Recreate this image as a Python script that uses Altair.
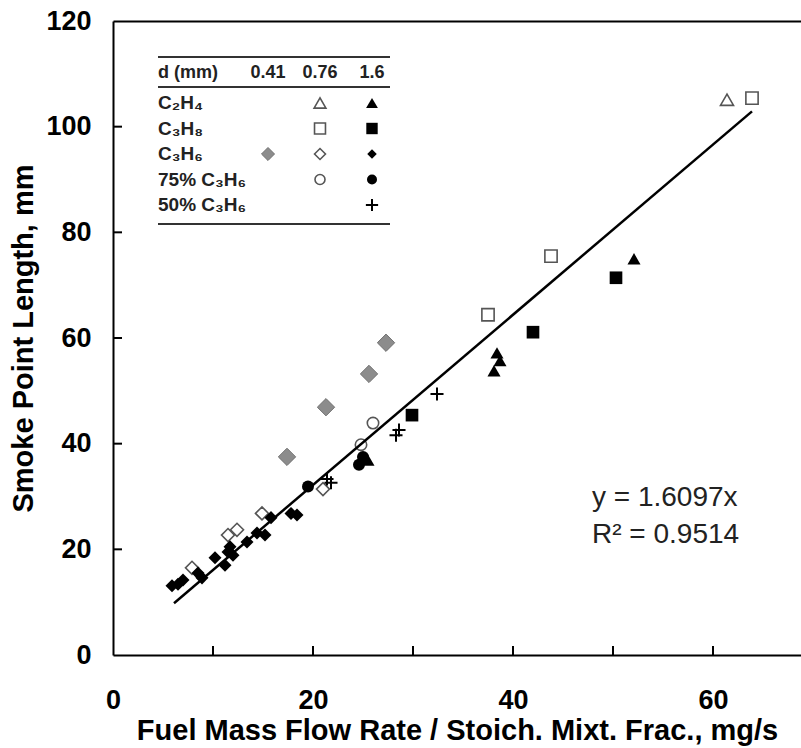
import altair as alt
import pandas as pd

# ---------------- data ----------------
c2h4_076_x = [61.4]
c2h4_076_y = [105.1]
c2h4_16_x = [25.5, 38.1, 38.4, 38.7, 52.1]
c2h4_16_y = [36.9, 53.8, 57.2, 55.7, 75.0]
c3h8_076_x = [37.5, 43.8, 63.9]
c3h8_076_y = [64.4, 75.5, 105.4]
c3h8_16_x = [29.9, 42.0, 50.3]
c3h8_16_y = [45.4, 61.1, 71.4]
c3h6_041_x = [17.4, 21.3, 25.6, 27.3]
c3h6_041_y = [37.5, 46.9, 53.2, 59.1]
c3h6_076_x = [7.9, 11.5, 12.4, 14.9, 21.0]
c3h6_076_y = [16.5, 22.7, 23.7, 26.8, 31.4]
c3h6_16_x = [5.9, 6.5, 7.0, 8.5, 8.9, 10.2, 11.2, 11.5, 11.7, 12.0, 13.4, 14.4, 15.2, 15.8, 17.8, 18.4]
c3h6_16_y = [13.1, 13.4, 14.2, 15.5, 14.6, 18.4, 17.0, 19.5, 20.5, 18.9, 21.4, 23.1, 22.7, 26.0, 26.8, 26.5]
p75_076_x = [24.8, 26.0]
p75_076_y = [39.8, 43.9]
p75_16_x = [19.5, 24.6, 25.0]
p75_16_y = [31.9, 36.0, 37.5]
p50_16_x = [21.4, 21.8, 28.3, 28.6, 32.4]
p50_16_y = [33.3, 32.6, 41.6, 42.6, 49.4]

fit_x = [6.1, 63.9]
fit_y = [9.8, 102.9]

x_label_values = [0, 20, 40, 60]
x_tick_values = [10, 20, 30, 40, 50, 60]
y_label_values = [0, 20, 40, 60, 80, 100, 120]
y_tick_values = [20, 40, 60, 80, 100]

x_title = "Fuel Mass Flow Rate / Stoich. Mixt. Frac., mg/s"
y_title = "Smoke Point Length, mm"

legend_header = "d (mm)"
legend_cols = ["0.41", "0.76", "1.6"]
legend_rows = ["C₂H₄", "C₃H₈", "C₃H₆", "75% C₃H₆", "50% C₃H₆"]
eq_lines = ["y = 1.6097x", "R² = 0.9514"]

# ---------------- layout / style ----------------
W, H = 688, 634
XMAX, YMAX = 68.8, 120
FONT = "Liberation Sans"
PLUS = "M-1,0H1M0,-1V1"
OPEN = "#555555"

series = [
    (c2h4_076_x, c2h4_076_y, legend_rows[0], "0.76",
     dict(shape="triangle-up", filled=False, color=OPEN, strokeWidth=1.6), 170, 140),
    (c2h4_16_x, c2h4_16_y, legend_rows[0], "1.6",
     dict(shape="triangle-up", filled=True, color="black"), 170, 140),
    (c3h8_076_x, c3h8_076_y, legend_rows[1], "0.76",
     dict(shape="square", filled=False, color=OPEN, strokeWidth=1.6), 150, 120),
    (c3h8_16_x, c3h8_16_y, legend_rows[1], "1.6",
     dict(shape="square", filled=True, color="black"), 160, 130),
    (c3h6_041_x, c3h6_041_y, legend_rows[2], "0.41",
     dict(shape="diamond", filled=True, fill="#8c8c8c", stroke="#707070", strokeWidth=1), 300, 170),
    (c3h6_076_x, c3h6_076_y, legend_rows[2], "0.76",
     dict(shape="diamond", filled=False, color=OPEN, strokeWidth=1.6), 170, 120),
    (c3h6_16_x, c3h6_16_y, legend_rows[2], "1.6",
     dict(shape="diamond", filled=True, color="black"), 170, 90),
    (p75_076_x, p75_076_y, legend_rows[3], "0.76",
     dict(shape="circle", filled=False, color=OPEN, strokeWidth=1.6), 130, 100),
    (p75_16_x, p75_16_y, legend_rows[3], "1.6",
     dict(shape="circle", filled=True, color="black"), 144, 100),
    (p50_16_x, p50_16_y, legend_rows[4], "1.6",
     dict(shape=PLUS, filled=False, color="black", strokeWidth=2), 170, 150),
]

xscale = alt.Scale(domain=[0, XMAX], nice=False, zero=False)
yscale = alt.Scale(domain=[0, YMAX], nice=False, zero=False)
lx_scale = alt.Scale(type="point", domain=legend_cols, range=[155, 259], padding=0)
ly_scale = alt.Scale(type="point", domain=legend_rows, range=[82, 184], padding=0)
eq_scale = alt.Scale(type="point", domain=eq_lines, range=[477, 514], padding=0)

x_axis = alt.Axis(values=x_label_values, format="d", labelFont=FONT, labelFontSize=27,
                  labelFontWeight="bold", labelColor="black", labelPadding=32,
                  labelFlush=False, labelOverlap=False, ticks=False, tickSize=0,
                  domainColor="black", domainWidth=2, grid=False,
                  title=x_title, titleFont=FONT, titleFontSize=29, titleFontWeight="bold",
                  titleColor="black", titlePadding=3, titleLimit=1000)
y_axis = alt.Axis(values=y_label_values, format="d", labelFont=FONT, labelFontSize=27,
                  labelFontWeight="bold", labelColor="black", labelPadding=22,
                  labelFlush=False, labelOverlap=False, ticks=False, tickSize=0,
                  domainColor="black", domainWidth=2, grid=False,
                  title=y_title, titleFont=FONT, titleFontSize=29, titleFontWeight="bold",
                  titleColor="black", titlePadding=7, titleLimit=1000)
top_axis = alt.Axis(orient="top", labels=False, ticks=False, tickSize=0, grid=False,
                    domainColor="black", domainWidth=2, title=None)

layers = []

# data points
for xs, ys, row, col, style, size, lsize in series:
    df = pd.DataFrame({"x": xs, "y": ys})
    layers.append(
        alt.Chart(df).mark_point(size=size, opacity=1, **style).encode(
            x=alt.X("x:Q", scale=xscale, axis=None),
            y=alt.Y("y:Q", scale=yscale, axis=None),
        )
    )

# fit line (carries the main axes)
fit_df = pd.DataFrame({"x": fit_x, "y": fit_y})
layers.append(
    alt.Chart(fit_df).mark_line(color="black", strokeWidth=2.5).encode(
        x=alt.X("x:Q", scale=xscale, axis=x_axis),
        y=alt.Y("y:Q", scale=yscale, axis=y_axis),
    )
)

# inward ticks on x (also carries the top frame line)
xt_df = pd.DataFrame({"t": x_tick_values})
layers.append(
    alt.Chart(xt_df).mark_rule(color="black", strokeWidth=2).encode(
        x=alt.X("t:Q", scale=xscale, axis=top_axis),
        y=alt.value(H),
        y2=alt.value(H - 9),
    )
)
# inward ticks on y
yt_df = pd.DataFrame({"t": y_tick_values})
layers.append(
    alt.Chart(yt_df).mark_rule(color="black", strokeWidth=2).encode(
        y=alt.Y("t:Q", scale=yscale, axis=None),
        x=alt.value(0),
        x2=alt.value(9),
    )
)

# legend table
one = pd.DataFrame({"a": [0]})
for ypos in [36, 66, 203]:
    layers.append(
        alt.Chart(one).mark_rule(color="#333333", strokeWidth=2).encode(
            x=alt.value(45), x2=alt.value(277), y=alt.value(ypos)
        )
    )
layers.append(
    alt.Chart(pd.DataFrame({"t": [legend_header]})).mark_text(
        align="left", baseline="middle", font=FONT, fontSize=18, fontWeight="bold", color="#222222"
    ).encode(x=alt.value(45), y=alt.value(52), text="t:N")
)
layers.append(
    alt.Chart(pd.DataFrame({"col": legend_cols})).mark_text(
        align="center", baseline="middle", font=FONT, fontSize=18, fontWeight="bold", color="#222222"
    ).encode(x=alt.X("col:N", scale=lx_scale, axis=None), y=alt.value(52), text="col:N")
)
layers.append(
    alt.Chart(pd.DataFrame({"row": legend_rows})).mark_text(
        align="left", baseline="middle", font=FONT, fontSize=19, fontWeight="bold", color="#222222"
    ).encode(x=alt.value(45), y=alt.Y("row:N", scale=ly_scale, axis=None), text="row:N")
)
for xs, ys, row, col, style, size, lsize in series:
    ldf = pd.DataFrame({"row": [row], "col": [col]})
    layers.append(
        alt.Chart(ldf).mark_point(size=lsize, opacity=1, **style).encode(
            x=alt.X("col:N", scale=lx_scale, axis=None),
            y=alt.Y("row:N", scale=ly_scale, axis=None),
        )
    )

# equation text
layers.append(
    alt.Chart(pd.DataFrame({"t": eq_lines})).mark_text(
        align="left", baseline="middle", font=FONT, fontSize=28, color="#222222"
    ).encode(x=alt.value(479), y=alt.Y("t:N", scale=eq_scale, axis=None), text="t:N")
)

chart = (
    alt.layer(*layers)
    .resolve_scale(x="independent", y="independent")
    .properties(
        width=W,
        height=H,
        padding={"left": 113, "top": 21, "right": 0, "bottom": 93},
        autosize=alt.AutoSizeParams(type="none"),
        background="white",
    )
    .configure_view(stroke=None)
)

chart.save("out.html", embed_options={"renderer": "svg", "actions": False})
